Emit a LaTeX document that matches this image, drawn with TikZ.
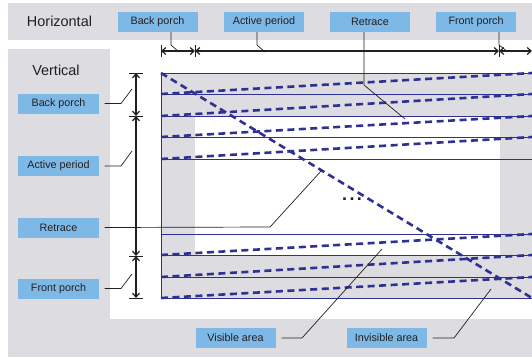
\documentclass[tikz,border=0pt]{standalone}
\usepackage{fontspec}
\setmainfont{Liberation Sans}
\usetikzlibrary{arrows.meta,calc}
\definecolor{bandgray}{HTML}{DCDCE1}
\definecolor{lblblue}{HTML}{7DB8E6}
\definecolor{scanblue}{HTML}{2E3192}
\definecolor{ink}{HTML}{231F20}
\begin{document}
\begin{tikzpicture}[x=1bp,y=-1bp,
 lbl/.style={fill=lblblue, minimum width=80bp, minimum height=20bp, inner sep=0pt, font=\fontsize{10.8}{12}\selectfont, text=ink},
 ttl/.style={font=\fontsize{14.5}{16}\selectfont, text=ink, inner sep=0pt},
 dim/.style={ink, line width=1.2bp, {Straight Barb[length=4bp,width=7bp]}-{Straight Barb[length=4bp,width=7bp]}},
 tickmark/.style={ink, line width=0.6bp},
 leader/.style={ink, line width=0.7bp},
 rowline/.style={scanblue, line width=0.8bp},
 scan/.style={scanblue, line width=2.6bp, dash pattern=on 7bp off 4.5bp}]
\useasboundingbox (0,0) rectangle (532,358);
% backgrounds
\fill[bandgray] (8,3) rectangle (532,40);
\fill[bandgray] (8,49) rectangle (110,319);
\fill[bandgray] (8,319) rectangle (532,357);
\fill[bandgray] (161,73) rectangle (532,116);
\fill[bandgray] (161,255) rectangle (532,298);
\fill[bandgray] (161,116) rectangle (195,255);
\fill[bandgray] (500,116) rectangle (532,255);
% raster rows
\foreach \y in {73,94,116,137,159,234,255,277,298}
  \draw[rowline] (161,\y) -- (532,\y);
\draw[rowline] (161,73) -- (161,298);
% scan lines
\foreach \a/\b in {94/73,116/94,137/116,159/137,255/234,277/255,298/277}
  \draw[scan] (161,\a) -- (532,\b);
\draw[scan] (161,73) -- (532,298);
\node[font=\fontsize{18}{20}\bfseries, text=ink, inner sep=0pt, anchor=base] (dots) at (352,200) {.\hspace{2.5bp}.\hspace{2.5bp}.};
% titles and labels
\node[ttl] (htitle) at (59.5,21) {Horizontal};
\node[ttl] (vtitle) at (56,70) {Vertical};
\node[lbl] (hbp) at (157.5,22) {Back porch};
\node[lbl] (hap) at (264,22) {Active period};
\node[lbl] (hrt) at (370,22) {Retrace};
\node[lbl] (hfp) at (476,22) {Front porch};
\node[lbl] (vbp) at (58.5,103.5) {Back porch};
\node[lbl] (vap) at (58.5,166) {Active period};
\node[lbl] (vrt) at (58.5,227.5) {Retrace};
\node[lbl] (vfp) at (58.5,288.5) {Front porch};
\node[lbl] (vis) at (235.5,338) {Visible area};
\node[lbl] (inv) at (386.5,338) {Invisible area};
% horizontal dimensions
\coordinate (h1) at (161,51);
\coordinate (h2) at (195,51);
\coordinate (h3) at (499,51);
\coordinate (h4) at (532,51);
\foreach \c in {h1,h2,h3}
  \draw[tickmark] ($(\c)+(0,-6)$) -- ($(\c)+(0,6)$);
\draw[dim] (h1) -- (h2);
\draw[dim] (h2) -- (h3);
\draw[dim] (h3) -- (h4);
% vertical dimensions
\coordinate (v1) at (136,73);
\coordinate (v2) at (136,116);
\coordinate (v3) at (136,256);
\coordinate (v4) at (136,298);
\foreach \c in {v1,v2,v3,v4}
  \draw[tickmark] ($(\c)+(-7,0)$) -- ($(\c)+(7,0)$);
\draw[dim] (v1) -- (v2);
\draw[dim] (v2) -- (v3);
\draw[dim] (v3) -- (v4);
% leaders, top
\coordinate (lx1) at (171,0);
\coordinate (lx2) at (257,0);
\coordinate (lx3) at (364,0);
\coordinate (lx4) at (499,0);
\draw[leader] (hbp.south -| lx1) -- (171,45) -- (179,52);
\draw[leader] (hap.south -| lx2) -- (257,45) -- (265,52);
\draw[leader] (hrt.south -| lx3) -- (364,85) -- (405,119);
\draw[leader] (hfp.south -| lx4) -- (499,45) -- (508,52);
% leaders, left
\draw[leader] ([xshift=6bp]vbp.east) -- (121,103.5) -- (132,89);
\draw[leader] ([xshift=6bp]vap.east) -- (121,166) -- (132,151);
\draw[leader] ([xshift=6bp]vrt.east) -- (270,227) -- (322,170);
\draw[leader] ([xshift=6bp]vfp.east) -- (121,288.5) -- (132,274);
% leaders, bottom
\draw[leader] ([xshift=6bp]vis.east) -- (302,338) -- (382,249);
\draw[leader] ([xshift=6bp]inv.east) -- (454,338) -- (491,289);
\end{tikzpicture}
\end{document}
